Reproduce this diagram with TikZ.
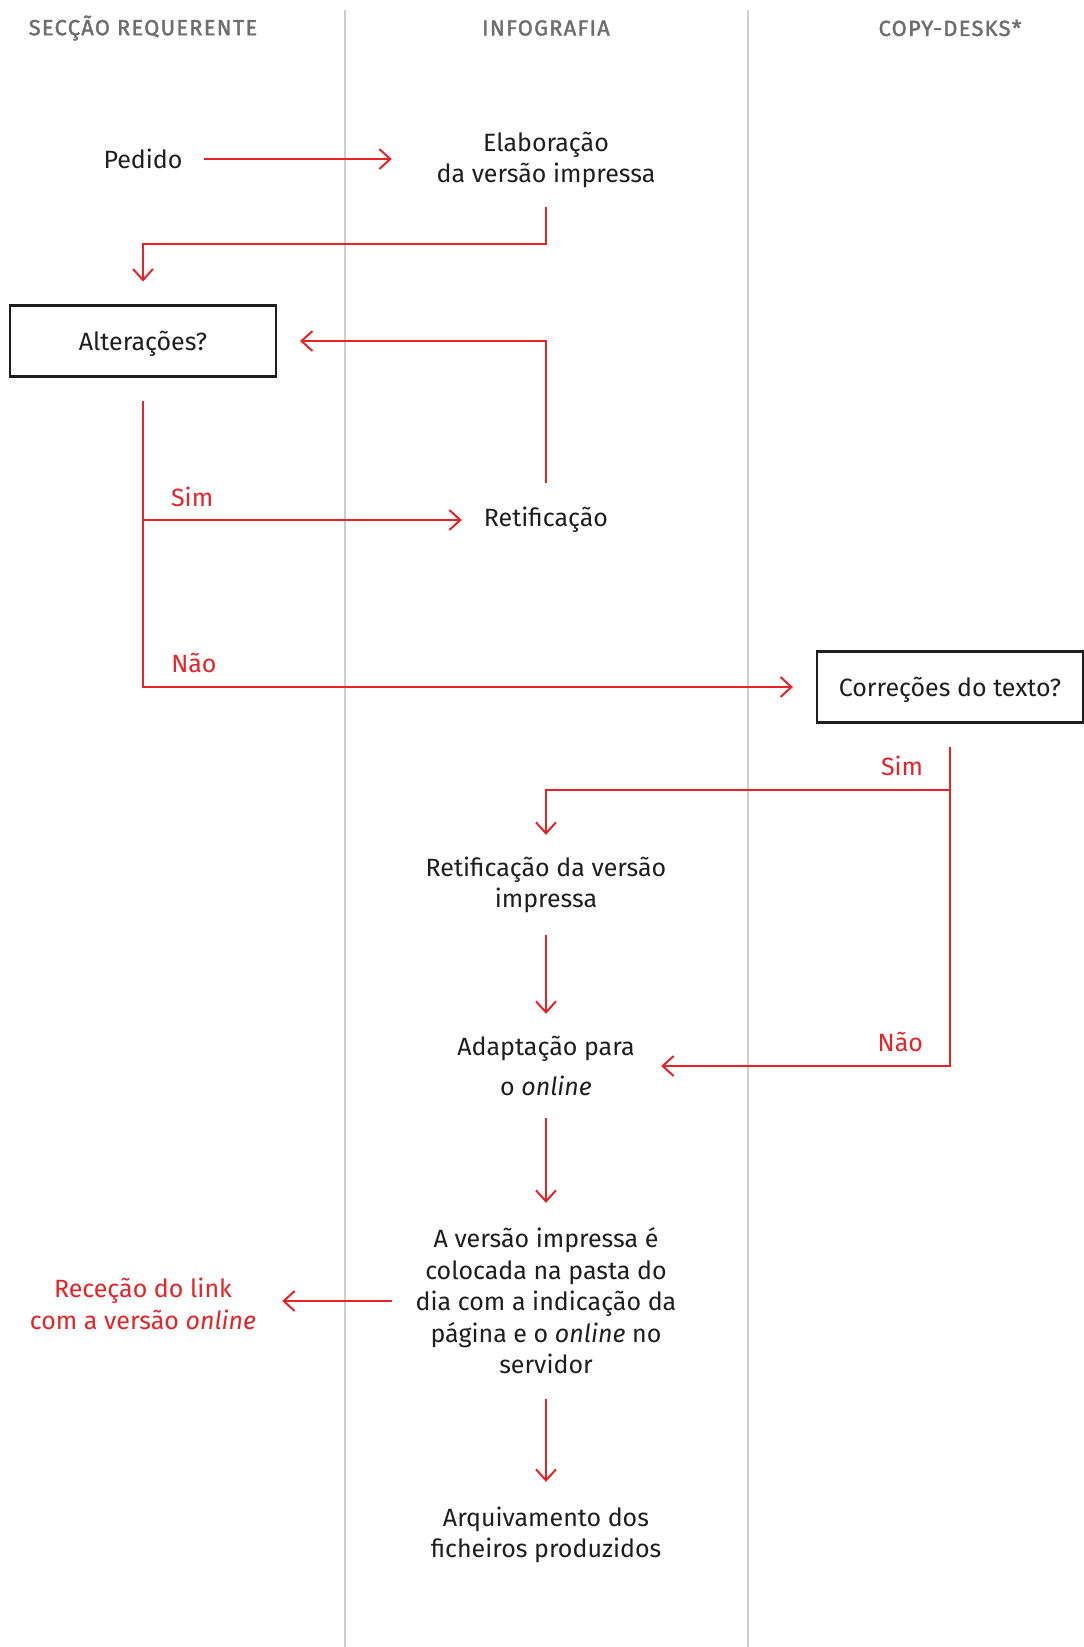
\documentclass[tikz,border=0pt]{standalone}
\usepackage{fontspec}
\setmainfont{Fira Sans}
\newfontfamily\headfont{Fira Sans}[LetterSpace=6, FakeBold=1.8]
\usetikzlibrary{arrows.meta}
\definecolor{flowred}{RGB}{229,35,40}
\definecolor{lanegray}{RGB}{206,206,206}
\definecolor{headgray}{RGB}{110,110,110}
\definecolor{ink}{RGB}{30,30,30}
\tikzset{
  every node/.style={font=\fontsize{25}{31.5}\selectfont, text=ink},
  txt/.style={align=center, inner sep=0pt},
  qbox/.style={draw=ink, line width=2.5pt, minimum width=266pt, minimum height=71pt, outer sep=24pt, text depth=0pt},
  flow/.style={draw=flowred, line width=2pt, -{Straight Barb[length=11pt,width=20pt]}},
  lbl/.style={text=flowred, inner sep=0pt},
  lane/.style={draw=lanegray, line width=2pt},
  head/.style={font=\headfont\fontsize{21.8}{24}\selectfont, text=headgray},
}
\begin{document}
\begin{tikzpicture}[x=1pt, y=-1pt]
\useasboundingbox[fill=white] (0,0) rectangle (1084,1647);
% lanes
\draw[lane] (345,10) -- (345,1647);
\draw[lane] (748,10) -- (748,1647);
\node[head] (h1) at (143,28) {SECÇÃO REQUERENTE};
\node[head] (h2) at (546,28) {INFOGRAFIA};
\node[head] (h3) at (950,28) {COPY-DESKS*};
% steps
\node[txt, minimum width=122pt] (pedido) at (143,159) {Pedido};
\node[txt, minimum width=308pt, minimum height=94pt] (elab) at (546,160) {Elaboração\\da versão impressa};
\node[qbox] (alt) at (143,341) {Alterações?};
\node[txt, minimum width=168pt, minimum height=74pt] (retif) at (546,520) {Retificação};
\node[qbox] (corr) at (950,687) {Correções do texto?};
\node[txt, minimum height=100pt] (rvi) at (546,885) {Retificação da versão\\impressa};
\node[txt, minimum width=230pt, minimum height=104pt] (adapt) at (546,1066) {Adaptação para\\[8pt]o \emph{online}};
\node[txt, minimum width=308pt, minimum height=196pt] (pasta) at (546,1301) {A versão impressa é\\colocada na pasta do\\dia com a indicação da\\página e o \emph{online} no\\servidor};
\node[txt, text=flowred, minimum width=278pt] (rececao) at (143,1304) {Receção do link\\com a versão \emph{online}};
\node[txt, minimum height=106pt] (arquivo) at (546,1535) {Arquivamento dos\\ficheiros produzidos};
% connectors
\draw[flow] (pedido.east) -- (pedido.east -| elab.west);
\draw[flow] (elab.south) -- ++(0,37) -| (alt.north);
\draw[flow] (retif.north) |- (alt.east);
\draw[flow] (alt.south |- retif.west) -- (retif.west)
  node[lbl, pos=0.085, anchor=south west, yshift=12pt] {Sim};
\draw[flow] (alt.south) |- (corr.west)
  node[lbl, pos=0.521, anchor=south west, yshift=13pt] {Não};
\coordinate (simc) at ([yshift=-43pt]corr.south);
\draw[flow] (corr.south) |- (adapt.east)
  node[lbl, pos=0.545, anchor=south east, yshift=13pt] {Não};
\draw[flow] (simc) -| (rvi.north)
  node[lbl, pos=0.032, anchor=south east, yshift=13pt] {Sim};
\draw[flow] (rvi.south) -- (adapt.north);
\draw[flow] (adapt.south) -- (pasta.north);
\draw[flow] (pasta.west) -- (pasta.west -| rececao.east);
\draw[flow] (pasta.south) -- (arquivo.north);
\end{tikzpicture}
\end{document}
